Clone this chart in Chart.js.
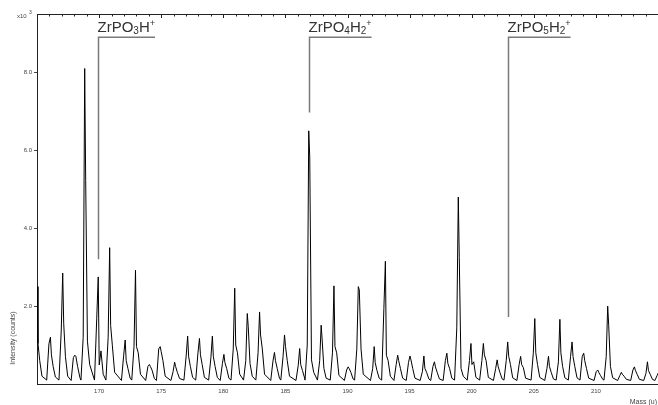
<!DOCTYPE html>
<html>
<head>
<meta charset="utf-8">
<script src="https://cdn.jsdelivr.net/npm/chart.js@4"></script>
<style>
  html, body { margin: 0; padding: 0; background: #fff; }
  #wrap { position: relative; width: 658px; height: 405px; }
</style>
</head>
<body>
<div id="wrap"><canvas id="spectrum"></canvas></div>
<script>
// apex position of each isotope peak (u)
const peakMass = [165.0, 166.08, 167.07, 168.05, 168.84, 169.93, 170.85, 172.1, 172.93, 174.05,
  174.92, 176.08, 177.13, 178.08, 179.12, 180.05, 180.92, 181.93, 182.92, 184.12,
  184.93, 186.15, 186.88, 187.88, 188.91, 190.05, 190.87, 192.15, 193.05, 194.04,
  195.03, 196.15, 197.0, 198.0, 198.92, 199.94, 200.94, 202.05, 202.9, 203.94,
  205.08, 206.18, 207.1, 208.08, 209.02, 210.15, 210.95, 212.05, 213.1, 214.15, 215.05];

// intensities (x10^3 counts) along each peak: valley, rising edge, apex, just after apex, shoulder, tail
const valley = [0.1, 0.1, 0.1, 0.09, 0.1, 0.1, 0.1, 0.09, 0.1, 0.09,
  0.09, 0.09, 0.1, 0.1, 0.1, 0.09, 0.1, 0.1, 0.1, 0.09,
  0.1, 0.09, 0.1, 0.1, 0.1, 0.09, 0.1, 0.09, 0.1, 0.09,
  0.09, 0.09, 0.09, 0.09, 0.1, 0.1, 0.1, 0.09, 0.1, 0.09,
  0.1, 0.09, 0.1, 0.1, 0.1, 0.09, 0.1, 0.09, 0.09, 0.09, 0.09];
const peakRise = [0.9, 1.03, 1.36, 0.68, 1.2, 1.69, 1.2, 0.74, 0.96, 0.45,
  0.9, 0.32, 0.72, 0.8, 0.67, 0.53, 0.9, 0.6, 0.8, 0.59,
  0.7, 0.47, 1.0, 0.6, 0.8, 0.36, 0.9, 0.4, 1.94, 0.5,
  0.55, 0.32, 0.45, 0.6, 1.44, 0.6, 0.6, 0.4, 0.6, 0.5,
  0.79, 0.4, 0.57, 0.71, 0.71, 0.32, 0.7, 0.22, 0.36, 0.27, 0.22];
const peakTop = [2.5, 1.2, 2.85, 0.74, 8.1, 2.75, 3.5, 1.13, 2.92, 0.5,
  0.96, 0.56, 1.23, 1.17, 1.23, 0.76, 2.46, 1.81, 1.85, 0.81,
  1.26, 0.91, 6.5, 1.51, 2.52, 0.44, 2.5, 0.96, 3.15, 0.74,
  0.72, 0.72, 0.57, 0.79, 4.8, 1.04, 1.04, 0.62, 1.08, 0.71,
  1.68, 0.71, 1.66, 1.08, 0.79, 0.36, 2.0, 0.3, 0.44, 0.57, 0.3];
const peakPost = [1.04, 0.75, 1.56, 0.71, 5.23, 0.49, 1.5, 0.6, 0.96, 0.45,
  0.83, 0.45, 0.7, 0.75, 0.7, 0.55, 1.0, 1.47, 1.26, 0.6,
  0.96, 0.5, 5.83, 1.13, 0.96, 0.4, 2.42, 0.55, 0.74, 0.6,
  0.62, 0.4, 0.44, 0.53, 3.25, 0.5, 0.75, 0.45, 0.71, 0.5,
  0.8, 0.45, 0.8, 0.7, 0.6, 0.3, 1.51, 0.25, 0.35, 0.35, 0.25];
const peakShoulder = [0.6, 0.45, 0.7, 0.45, 1.1, 0.85, 0.98, 0.4, 0.8, 0.35,
  0.6, 0.3, 0.45, 0.5, 0.45, 0.4, 0.8, 0.53, 0.9, 0.4,
  0.6, 0.35, 0.62, 0.4, 0.8, 0.3, 0.9, 0.35, 0.6, 0.4,
  0.4, 0.3, 0.3, 0.4, 0.4, 0.57, 0.6, 0.3, 0.5, 0.42,
  0.5, 0.3, 0.45, 0.45, 0.4, 0.22, 0.45, 0.2, 0.25, 0.25, 0.2];
const peakTail = [0.2, 0.18, 0.2, 0.17, 0.5, 0.25, 0.3, 0.15, 0.25, 0.14,
  0.2, 0.14, 0.17, 0.17, 0.17, 0.15, 0.25, 0.2, 0.25, 0.15,
  0.2, 0.15, 0.3, 0.15, 0.22, 0.13, 0.25, 0.15, 0.2, 0.15,
  0.15, 0.13, 0.13, 0.15, 0.2, 0.17, 0.17, 0.13, 0.16, 0.15,
  0.17, 0.13, 0.16, 0.16, 0.15, 0.12, 0.16, 0.12, 0.12, 0.12, 0.12];
// where those six samples sit relative to the apex (u)
const profileOffsets = [-0.3, -0.12, 0, 0.08, 0.22, 0.4];

// labelled ions: apex mass, oxygen count, hydrogen count, where the marker line stops
const ionMass = [169.93, 186.88, 202.9];
const ionO = ['3', '4', '5'];
const ionH = ['', '2', '2'];
const ionLineEnd = [3.2, 6.97, 1.72];
const ionBracketLevel = 8.9;

const xTickLabels = [170, 175, 180, 185, 190, 195, 200, 205, 210];
const yTickLabels = [2, 4, 6, 8];

const trace = [];
peakMass.forEach((m, i) => {
  const levels = [valley[i], peakRise[i], peakTop[i], peakPost[i], peakShoulder[i], peakTail[i]];
  profileOffsets.forEach((dx, k) => trace.push({ x: +(m + dx).toFixed(2), y: levels[k] }));
});

const FONT = "'Liberation Sans', Arial, sans-serif";

// top frame with minor ticks, axis titles, the x10^3 multiplier and ion labels
const decorations = {
  id: 'decorations',
  afterDraw(chart) {
    const { ctx, chartArea: area, scales: { x, y } } = chart;
    ctx.save();

    ctx.strokeStyle = '#222';
    ctx.lineWidth = 1;
    ctx.beginPath();
    ctx.moveTo(area.left, area.top + 0.5);
    ctx.lineTo(area.right, area.top + 0.5);
    for (let m = 165; m <= 215; m++) {
      const px = Math.round(x.getPixelForValue(m)) + 0.5;
      ctx.moveTo(px, area.top);
      ctx.lineTo(px, area.top + (m % 5 === 0 ? 4 : 2.5));
    }
    ctx.stroke();

    ctx.fillStyle = '#444';
    ctx.font = '6px ' + FONT;
    ctx.textAlign = 'left';
    ctx.textBaseline = 'alphabetic';
    ctx.fillText('x10', 17, 18);
    ctx.font = '5px ' + FONT;
    ctx.fillText('3', 29, 14);

    ctx.font = '7px ' + FONT;
    ctx.textAlign = 'right';
    ctx.fillText('Mass (u)', 657, 404);

    ctx.save();
    ctx.translate(15, 338);
    ctx.rotate(-Math.PI / 2);
    ctx.textAlign = 'center';
    ctx.fillText('Intensity (counts)', 0, 0);
    ctx.restore();

    ionMass.forEach((m, i) => {
      const px = Math.round(x.getPixelForValue(m)) + 0.5;
      const top = y.getPixelForValue(ionBracketLevel);
      const bottom = y.getPixelForValue(ionLineEnd[i]);
      const base = top - 5;
      let cx = px - 1;
      ctx.fillStyle = '#333';
      ctx.textAlign = 'left';
      const part = (txt, size, dy) => {
        if (!txt) return;
        ctx.font = size + 'px ' + FONT;
        ctx.fillText(txt, cx, base + dy);
        cx += ctx.measureText(txt).width;
      };
      part('ZrPO', 15, 0);
      part(ionO[i], 10, 2);
      part('H', 15, 0);
      part(ionH[i], 10, 2);
      part('+', 9, -6);

      ctx.strokeStyle = '#7a7a7a';
      ctx.lineWidth = 1.5;
      ctx.beginPath();
      ctx.moveTo(cx, top);
      ctx.lineTo(px, top);
      ctx.lineTo(px, bottom);
      ctx.stroke();
    });

    ctx.restore();
  }
};

new Chart(document.getElementById('spectrum'), {
  type: 'line',
  data: {
    datasets: [{
      data: trace,
      borderColor: '#000',
      borderWidth: 1,
      pointRadius: 0,
      tension: 0,
      fill: false
    }]
  },
  options: {
    responsive: true,
    maintainAspectRatio: false,
    animation: false,
    devicePixelRatio: 1,
    layout: { padding: { top: 14, right: 0, left: 0, bottom: 0 } },
    plugins: { legend: { display: false }, tooltip: { enabled: false } },
    scales: {
      x: {
        type: 'linear',
        min: 165,
        max: 215,
        afterBuildTicks: s => { s.ticks = xTickLabels.map(v => ({ value: v })); },
        afterFit: s => { s.height = 21; },
        grid: { display: true, drawOnChartArea: false, drawTicks: false },
        border: { display: true, color: '#222', width: 1 },
        ticks: { color: '#444', font: { family: FONT, size: 6 }, padding: 4, maxRotation: 0, autoSkip: false }
      },
      y: {
        type: 'linear',
        min: 0,
        max: 9.5,
        afterBuildTicks: s => { s.ticks = yTickLabels.map(v => ({ value: v })); },
        afterFit: s => { s.width = 37; },
        grid: { display: true, drawOnChartArea: false, drawTicks: true, tickLength: 3, color: '#444' },
        border: { display: true, color: '#222', width: 1 },
        ticks: {
          color: '#444',
          font: { family: FONT, size: 6 },
          padding: 2,
          callback: v => v.toFixed(1)
        }
      }
    }
  },
  plugins: [decorations]
});
</script>
</body>
</html>
